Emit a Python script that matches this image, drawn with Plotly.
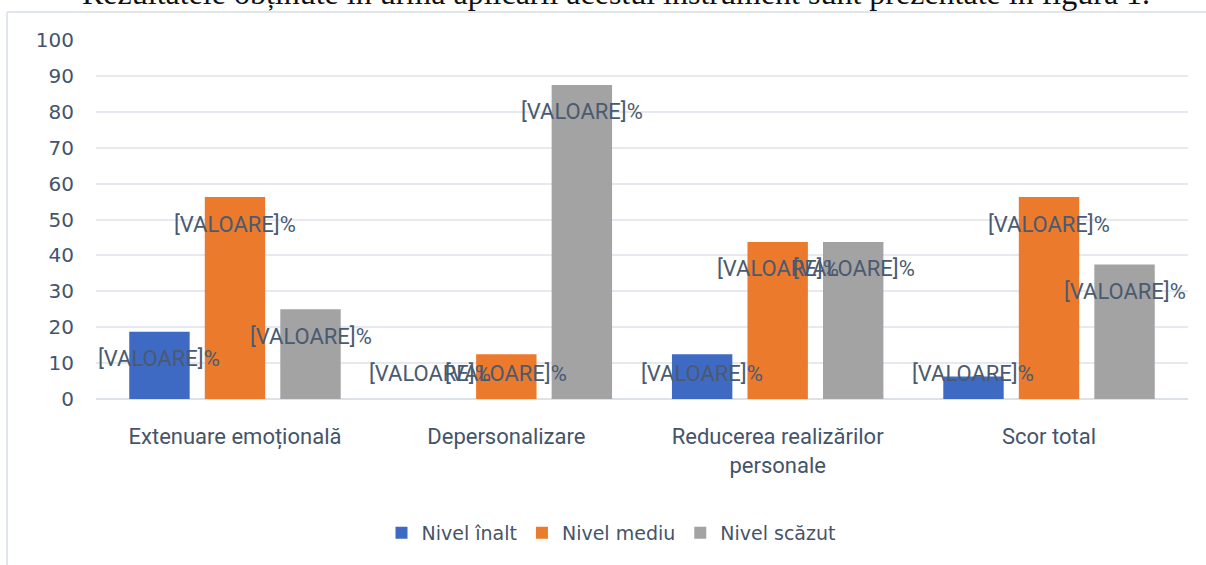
import plotly.graph_objects as go

categories = ["Extenuare emoțională", "Depersonalizare", "Reducerea realizărilor<br>personale", "Scor total"]
series_names = ["Nivel înalt", "Nivel mediu", "Nivel scăzut"]
nivel_inalt = [18.75, 0, 12.5, 6.25]
nivel_mediu = [56.25, 12.5, 43.75, 56.25]
nivel_scazut = [25, 87.5, 43.75, 37.5]
label_text = "[VALOARE]%"
y_ticks = [0, 10, 20, 30, 40, 50, 60, 70, 80, 90, 100]
top_text = "Rezultatele obținute în urma aplicării acestui instrument sunt prezentate în figura 1."

colors = ["#3F6AC4", "#EC7A2D", "#A3A3A3"]
series_values = [nivel_inalt, nivel_mediu, nivel_scazut]

W, H = 1206, 565
ml, mr, mt, mb = 96, 18, 40, 166
plot_h = H - mt - mb
plot_w = W - ml - mr

fig = go.Figure()
for name, vals, col in zip(series_names, series_values, colors):
    fig.add_trace(go.Bar(x=categories, y=vals, name=name, marker=dict(color=col, line=dict(width=0)),
                         hoverinfo="skip"))

label_color = "#4A5A70"
slot_px = plot_w / len(categories) * (1 - 0.165) / 3
for i, vals in enumerate(series_values):
    for cat, v in zip(categories, vals):
        fig.add_annotation(
            x=cat, y=max(v, 14.7), xref="x", yref="y",
            text=label_text, showarrow=False,
            xshift=(i - 1) * slot_px, yshift=-27,
            font=dict(family="Roboto", size=22, color=label_color),
            yanchor="middle", xanchor="center",
        )

# partially visible sentence above the chart
fig.add_annotation(
    x=(616 - ml) / plot_w, y=1 + (mt - 13) / plot_h, xref="paper", yref="paper",
    text=top_text, showarrow=False, xanchor="center", yanchor="bottom",
    font=dict(family="Liberation Serif", size=32, color="#111111"),
)

border_col = "#E1E5EC"
bx = (7 - ml) / plot_w
by = 1 + (mt - 12) / plot_h
fig.add_shape(type="line", xref="paper", yref="paper", x0=bx, x1=(W - ml) / plot_w, y0=by, y1=by,
              line=dict(color=border_col, width=2))
fig.add_shape(type="line", xref="paper", yref="paper", x0=bx, x1=bx, y0=by, y1=-(mb) / plot_h,
              line=dict(color=border_col, width=2))

tick_col = "#44546A"
fig.update_layout(
    width=W, height=H,
    margin=dict(l=ml, r=mr, t=mt, b=mb),
    paper_bgcolor="white", plot_bgcolor="white",
    barmode="group", bargap=0.165, bargroupgap=0.2,
    showlegend=True,
    legend=dict(orientation="h", x=(611 - ml) / plot_w, xanchor="center",
                y=-(533 - (H - mb)) / plot_h, yanchor="middle",
                font=dict(family="DejaVu Sans", size=19, color=tick_col),
                itemwidth=30, traceorder="normal"),
    xaxis=dict(showgrid=False, showline=False, ticks="", ticklabelstandoff=22,
               tickfont=dict(family="Roboto", size=22, color=tick_col)),
    yaxis=dict(range=[0, 100], tickvals=y_ticks, showgrid=True, gridcolor="#E6E9EF", gridwidth=1.5,
               zeroline=True, zerolinecolor="#DDE1E8", zerolinewidth=1.5, showline=False,
               ticks="", ticklabelstandoff=21,
               tickfont=dict(family="DejaVu Sans", size=20, color=tick_col)),
)

fig.write_html("out.html", config={"displayModeBar": False},
               post_script="document.body.style.margin='0';document.body.style.overflow='hidden';")
